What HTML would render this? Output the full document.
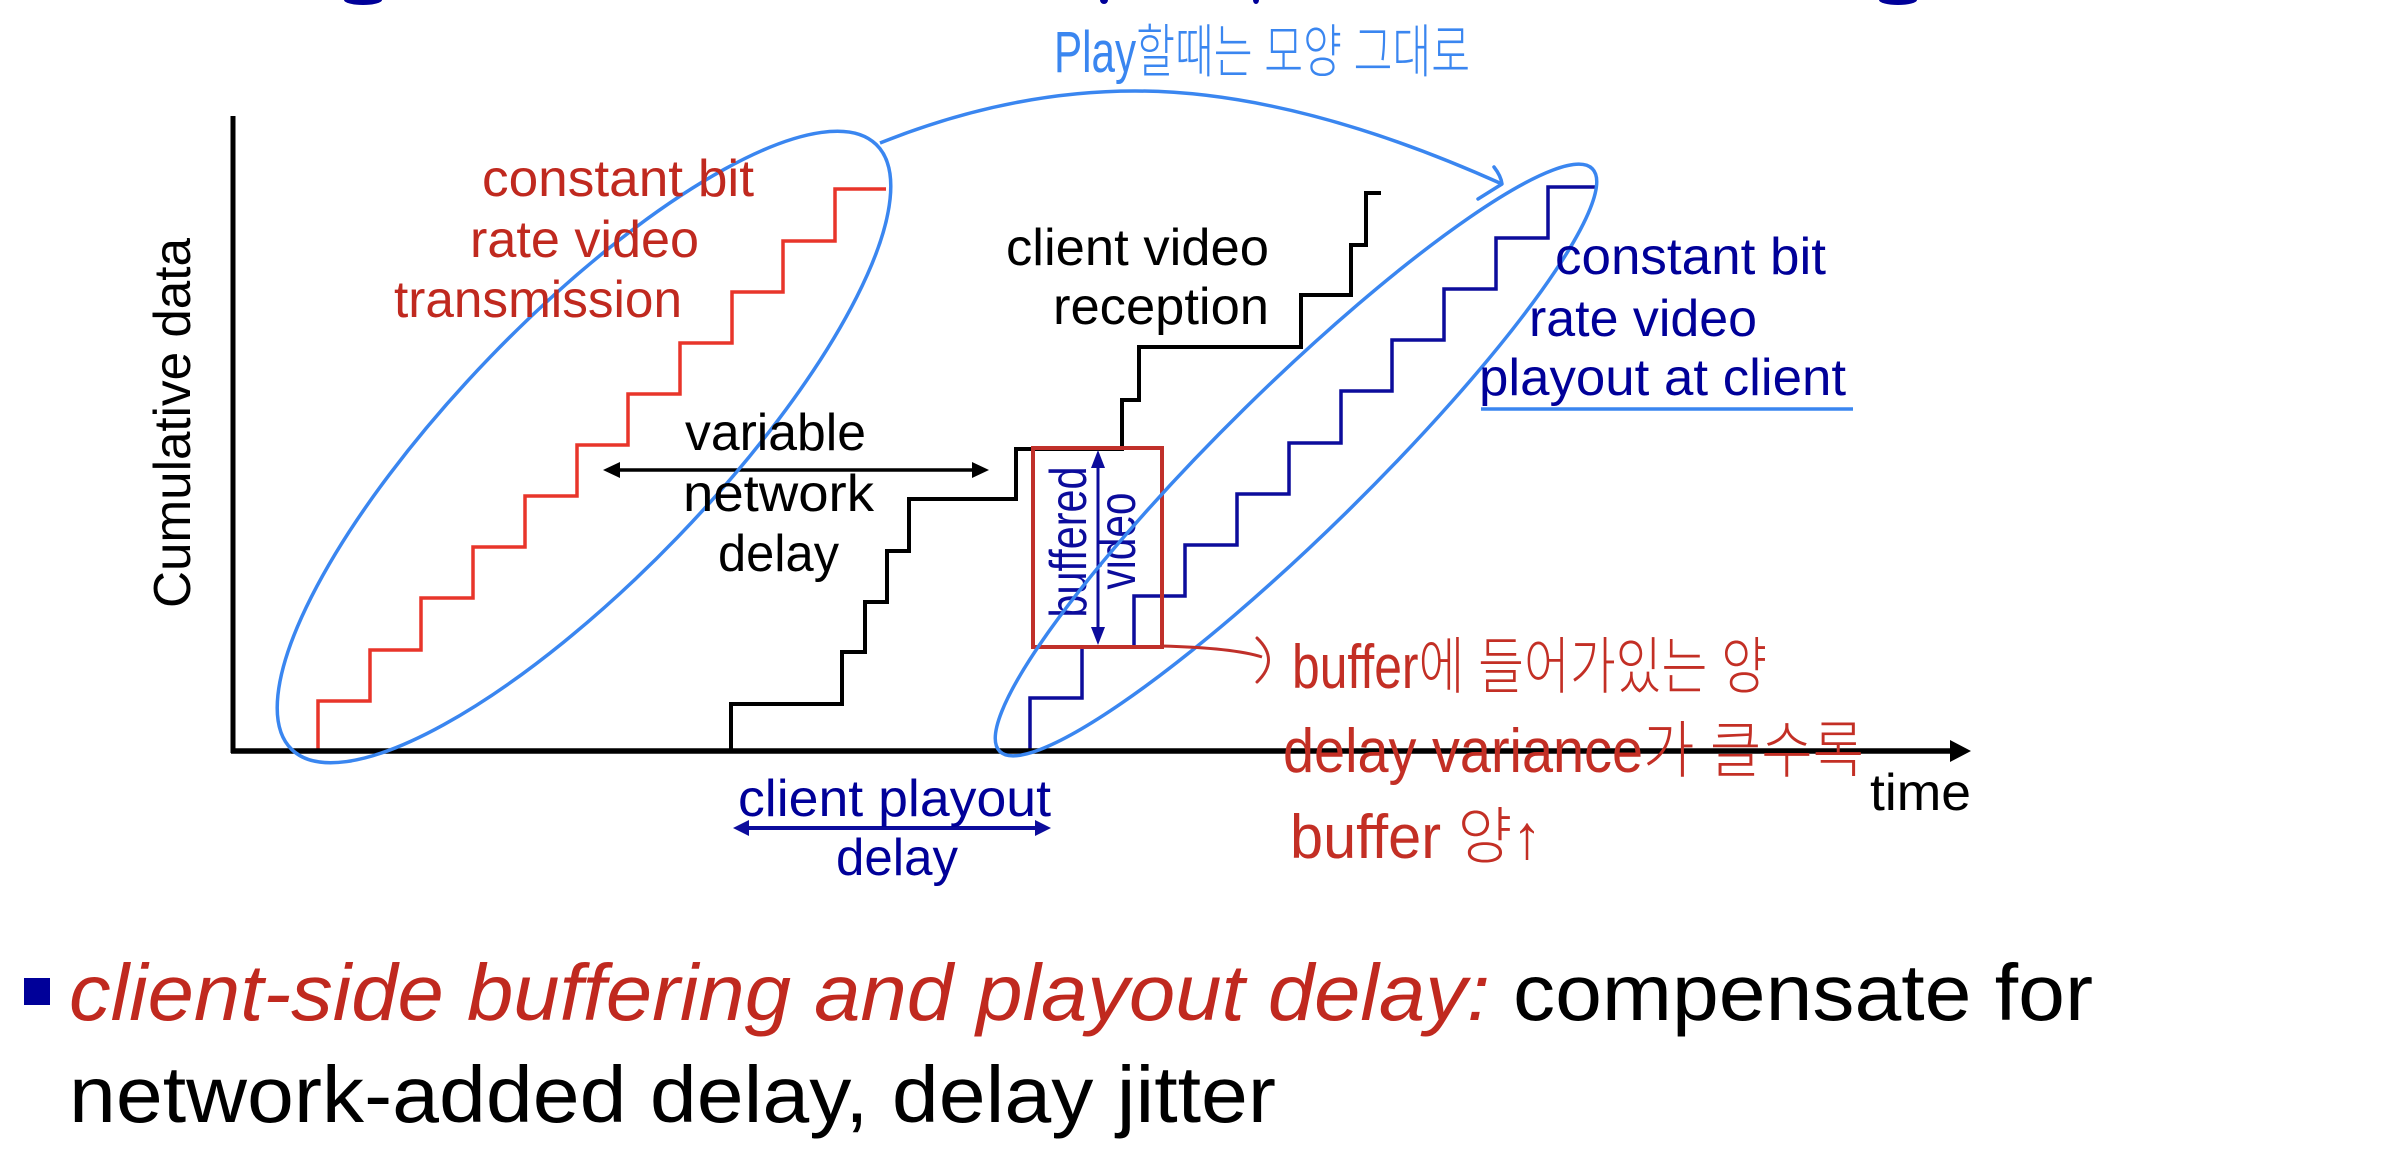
<!DOCTYPE html>
<html>
<head>
<meta charset="utf-8">
<style>
  html, body { margin:0; padding:0; background:#ffffff; }
  body { width:2396px; height:1150px; overflow:hidden; }
  svg { display:block; }
  .lbl { font-family:"Liberation Sans", sans-serif; font-size:52px; }
  .hw { font-family:"Liberation Sans", "Noto Sans CJK KR", "NanumGothic", sans-serif; font-weight:300; }
</style>
</head>
<body>
<svg width="2396" height="1150" viewBox="0 0 2396 1150" xmlns="http://www.w3.org/2000/svg">
  <!-- title fragments at top edge -->
  <ellipse cx="363" cy="0" rx="19" ry="5" fill="#000099"/>
  <ellipse cx="1104" cy="0" rx="4" ry="4" fill="#000099"/>
  <ellipse cx="1256" cy="0" rx="3" ry="4" fill="#000099"/>
  <ellipse cx="1898" cy="0" rx="19" ry="5" fill="#000099"/>

  <!-- handwritten top note -->
  <text class="hw" x="1054" y="72" font-size="58" fill="#3a86f0" textLength="416" lengthAdjust="spacingAndGlyphs">Play할때는 모양 그대로</text>

  <!-- curved arrow between ellipses -->
  <path d="M880,143 Q1010,91 1135,91 Q1295,91 1502,184" fill="none" stroke="#3a86f0" stroke-width="3.5"/>
  <path d="M1494,167 Q1501,176 1502,184 L1478,199" fill="none" stroke="#3a86f0" stroke-width="3.5" stroke-linecap="round" stroke-linejoin="round"/>

  <!-- Y axis label -->
  <text class="lbl" transform="translate(190,423) rotate(-90)" text-anchor="middle" font-size="51" fill="#000" textLength="370" lengthAdjust="spacingAndGlyphs">Cumulative data</text>

  <!-- staircases -->
  <path d="M318,752 V701 H370 V650 H421 V598 H473 V547 H525 V496 H577 V445 H628 V394 H680 V343 H732 V292 H783 V241 H835 V189 H886" fill="none" stroke="#e8352a" stroke-width="3.5"/>
  <path d="M731,752 V704 H842 V652 H865 V602 H887 V551 H909 V499 H1016 V449 H1122 V400 H1139 V347 H1301 V295 H1351 V245 H1366 V193 H1381" fill="none" stroke="#000" stroke-width="4"/>
  <path d="M1030,752 V698 H1082 V647 H1134 V596 H1185 V545 H1237 V494 H1289 V443 H1341 V391 H1392 V340 H1444 V289 H1496 V238 H1548 V187 H1596" fill="none" stroke="#0c0c9c" stroke-width="3.5"/>

  <!-- buffer box -->
  <rect x="1033" y="448" width="129" height="199" fill="none" stroke="#c0302a" stroke-width="4"/>
  <!-- blue double arrow inside box -->
  <line x1="1098" y1="466" x2="1098" y2="629" stroke="#0c0c9c" stroke-width="3"/>
  <polygon points="1098,450 1091,468 1105,468" fill="#0c0c9c"/>
  <polygon points="1098,645 1091,627 1105,627" fill="#0c0c9c"/>
  <text class="lbl" transform="translate(1086,542) rotate(-90)" text-anchor="middle" font-size="42" fill="#0c0c9c" textLength="151" lengthAdjust="spacingAndGlyphs">buffered</text>
  <text class="lbl" transform="translate(1135,541) rotate(-90)" text-anchor="middle" font-size="40" fill="#0c0c9c" textLength="97" lengthAdjust="spacingAndGlyphs">video</text>

  <!-- axes -->
  <line x1="233" y1="116" x2="233" y2="753" stroke="#000" stroke-width="5"/>
  <line x1="231" y1="751" x2="1956" y2="751" stroke="#000" stroke-width="5.5"/>
  <polygon points="1950,740 1971,751 1950,762" fill="#000"/>

  <!-- variable network delay arrow -->
  <line x1="616" y1="470" x2="976" y2="470" stroke="#000" stroke-width="3.5"/>
  <polygon points="603,470 620,462 620,478" fill="#000"/>
  <polygon points="989,470 972,462 972,478" fill="#000"/>

  <!-- client playout delay arrow -->
  <line x1="746" y1="828" x2="1038" y2="828" stroke="#0c0c9c" stroke-width="4"/>
  <polygon points="733,828 749,820 749,836" fill="#0c0c9c"/>
  <polygon points="1051,828 1035,820 1035,836" fill="#0c0c9c"/>

  <!-- ellipses -->
  <ellipse cx="584" cy="447" rx="420.6" ry="130" transform="rotate(-46 584 447)" fill="none" stroke="#3a86f0" stroke-width="3.5"/>
  <ellipse cx="1296" cy="460" rx="415.5" ry="72.7" transform="rotate(-44.5 1296 460)" fill="none" stroke="#3a86f0" stroke-width="3.5"/>

  <!-- red labels -->
  <g class="lbl" fill="#c0291f">
    <text x="482" y="196" textLength="272" lengthAdjust="spacingAndGlyphs">constant bit</text>
    <text x="470" y="257" textLength="229" lengthAdjust="spacingAndGlyphs">rate video</text>
    <text x="394" y="317" textLength="288" lengthAdjust="spacingAndGlyphs">transmission</text>
  </g>
  <!-- black labels -->
  <g class="lbl" fill="#000">
    <text x="1006" y="265" textLength="263" lengthAdjust="spacingAndGlyphs">client video</text>
    <text x="1053" y="324" textLength="216" lengthAdjust="spacingAndGlyphs">reception</text>
    <text x="685" y="450" textLength="181" lengthAdjust="spacingAndGlyphs">variable</text>
    <text x="683" y="511" textLength="191" lengthAdjust="spacingAndGlyphs">network</text>
    <text x="718" y="571" textLength="121" lengthAdjust="spacingAndGlyphs">delay</text>
    <text x="1870" y="810" textLength="101" lengthAdjust="spacingAndGlyphs">time</text>
  </g>
  <!-- dark blue labels -->
  <g class="lbl" fill="#000099">
    <text x="1555" y="274" textLength="271" lengthAdjust="spacingAndGlyphs">constant bit</text>
    <text x="1529" y="336" textLength="228" lengthAdjust="spacingAndGlyphs">rate video</text>
    <text x="1479" y="395" textLength="367" lengthAdjust="spacingAndGlyphs">playout at client</text>
    <text x="738" y="816" textLength="313" lengthAdjust="spacingAndGlyphs">client playout</text>
    <text x="836" y="875" textLength="122" lengthAdjust="spacingAndGlyphs">delay</text>
  </g>
  <line x1="1481" y1="409" x2="1853" y2="409" stroke="#3a86f0" stroke-width="3.5"/>

  <!-- red handwritten annotation -->
  <path d="M1162,646 C1200,647 1240,650 1262,657" fill="none" stroke="#c0302a" stroke-width="3"/>
  <path d="M1257,638 Q1280,660 1257,682" fill="none" stroke="#c0302a" stroke-width="3" stroke-linecap="round"/>
  <g class="hw" fill="#c32f25" font-size="62">
    <text x="1292" y="688" textLength="475" lengthAdjust="spacingAndGlyphs">buffer에 들어가있는 양</text>
    <text x="1283" y="772" textLength="581" lengthAdjust="spacingAndGlyphs">delay variance가 클수록</text>
    <text x="1290" y="858" textLength="252" lengthAdjust="spacingAndGlyphs">buffer 양↑</text>
  </g>

  <!-- bottom bullet text -->
  <rect x="24" y="978" width="26" height="27" fill="#000099"/>
  <text x="69" y="1020" font-family="Liberation Sans, sans-serif" font-size="80" font-style="italic" fill="#c0291f" textLength="1421" lengthAdjust="spacingAndGlyphs">client-side buffering and playout delay:</text>
  <text x="1513" y="1020" font-family="Liberation Sans, sans-serif" font-size="80" fill="#000" textLength="580" lengthAdjust="spacingAndGlyphs">compensate for</text>
  <text x="69" y="1122" font-family="Liberation Sans, sans-serif" font-size="80" fill="#000" textLength="1207" lengthAdjust="spacingAndGlyphs">network-added delay, delay jitter</text>
</svg>
</body>
</html>
